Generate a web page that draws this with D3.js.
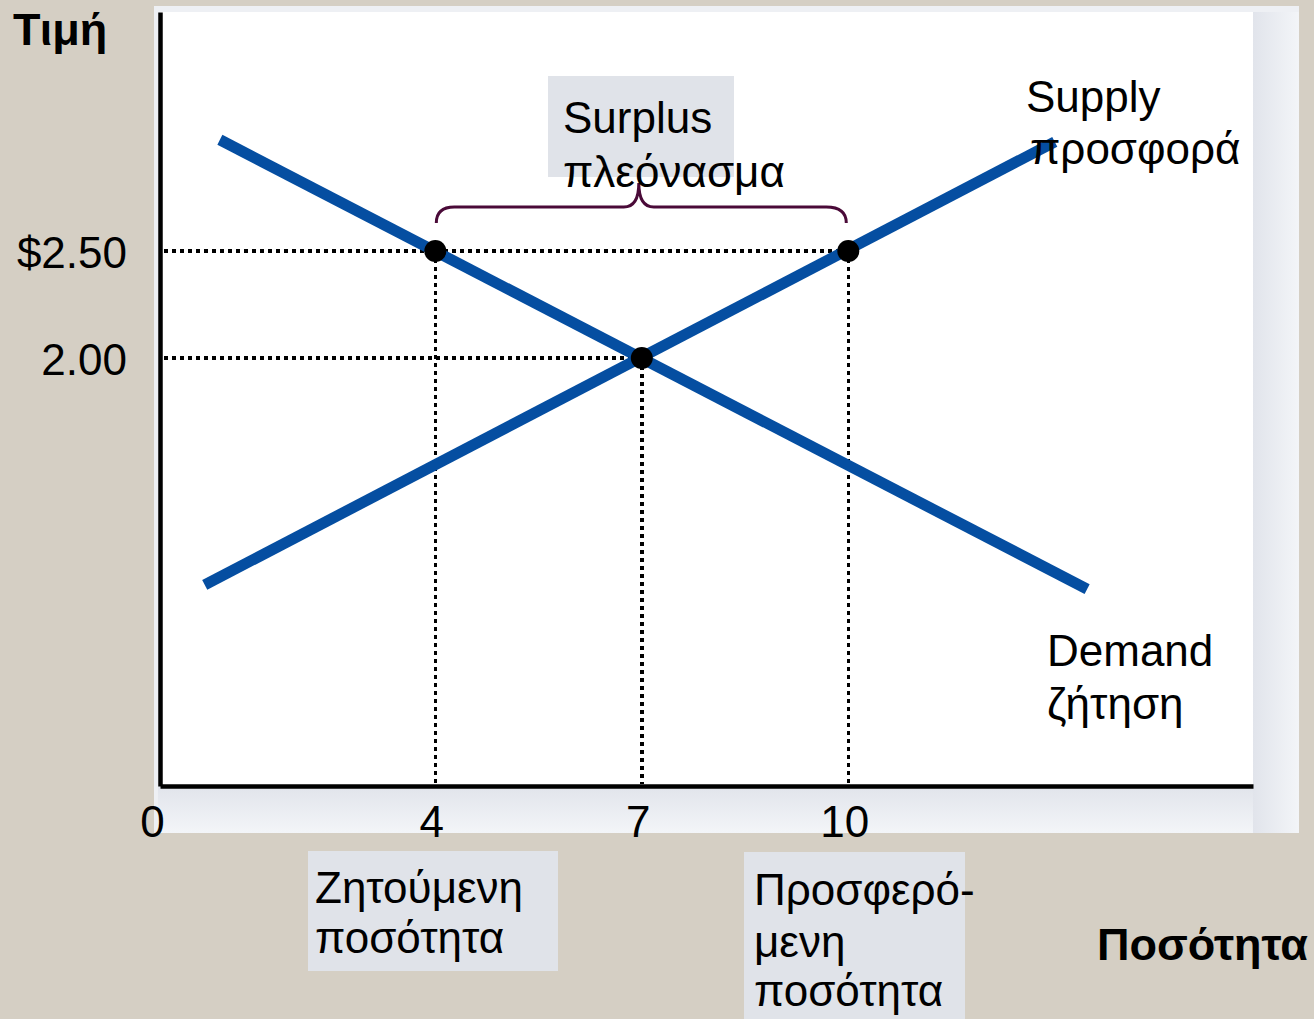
<!DOCTYPE html>
<html>
<head>
<meta charset="utf-8">
<script src="https://cdn.jsdelivr.net/npm/d3@7"></script>
<style>
  html, body { margin: 0; padding: 0; background: #d5cfc4; }
  svg { display: block; font-family: 'Liberation Sans', Arial, sans-serif; }
</style>
</head>
<body>
<svg id="chart" width="1314" height="1019"></svg>
<script>
'use strict';

// price axis ticks
var priceTicks = [2.5, 2.0];
var priceLabels = ['$2.50', '2.00'];

// quantity axis ticks
var qtyTicks = [0, 4, 7, 10];

// demand and supply curves (quantity, price)
var demandQ = [0.87, 13.47];
var demandP = [3.02, 0.92];
var supplyQ = [0.65, 13.0];
var supplyP = [0.94, 3.01];

// marked points: quantity demanded, quantity supplied, equilibrium
var pointQ = [4, 10, 7];
var pointP = [2.5, 2.5, 2.0];

var blue = '#054ea1';
var font = 44;

var svg = d3.select('#chart');

var x = d3.scaleLinear().domain([0, 15.88]).range([160, 1253]);
var y = d3.scaleLinear().domain([0, 3.617]).range([786, 12]);

var defs = svg.append('defs');
var gr = defs.append('linearGradient').attr('id', 'gradR').attr('x1', 0).attr('x2', 1).attr('y1', 0).attr('y2', 0);
gr.append('stop').attr('offset', '0%').attr('stop-color', '#e1e4eb');
gr.append('stop').attr('offset', '100%').attr('stop-color', '#f3f5f8');
var gb = defs.append('linearGradient').attr('id', 'gradB').attr('x1', 0).attr('x2', 0).attr('y1', 0).attr('y2', 1);
gb.append('stop').attr('offset', '0%').attr('stop-color', '#e1e4eb');
gb.append('stop').attr('offset', '100%').attr('stop-color', '#f3f5f8');

// panel
svg.append('rect')
    .attr('x', 154).attr('y', 6)
    .attr('width', 1299 - 154).attr('height', 833 - 6)
    .attr('fill', '#eef0f4');
svg.append('rect')
    .attr('x', 1253).attr('y', 12)
    .attr('width', 1299 - 1253).attr('height', 833 - 12)
    .attr('fill', 'url(#gradR)');
svg.append('rect')
    .attr('x', 158).attr('y', 786)
    .attr('width', 1253 - 158).attr('height', 833 - 786)
    .attr('fill', 'url(#gradB)');
svg.append('rect')
    .attr('x', x.range()[0]).attr('y', y.range()[1])
    .attr('width', x.range()[1] - x.range()[0]).attr('height', y.range()[0] - y.range()[1])
    .attr('fill', '#ffffff');

// label boxes
svg.append('rect').attr('x', 548).attr('y', 76).attr('width', 186).attr('height', 101).attr('fill', '#e0e3e9');
svg.append('rect').attr('x', 308).attr('y', 851).attr('width', 250).attr('height', 120).attr('fill', '#e0e3e9');
svg.append('rect').attr('x', 744).attr('y', 852).attr('width', 221).attr('height', 167).attr('fill', '#e0e3e9');

// dotted guides
var guides = svg.append('g')
    .attr('stroke', '#000')
    .attr('stroke-width', 3.5)
    .attr('stroke-dasharray', '4,4')
    .attr('shape-rendering', 'crispEdges')
    .attr('fill', 'none');

guides.append('line')
    .attr('x1', x(0) + 4).attr('x2', x(10))
    .attr('y1', y(2.5)).attr('y2', y(2.5));
guides.append('line')
    .attr('x1', x(0) + 4).attr('x2', x(7))
    .attr('y1', y(2.0)).attr('y2', y(2.0));
pointQ.forEach(function (q, i) {
    guides.append('line')
        .attr('x1', x(q)).attr('x2', x(q))
        .attr('y1', y(pointP[i])).attr('y2', y(0) - 2);
});

// axes
var xAxis = svg.append('g')
    .attr('transform', 'translate(0,' + y(0) + ')')
    .call(d3.axisBottom(x).tickValues(qtyTicks).tickSize(0).tickSizeOuter(0).tickPadding(20));
var yAxis = svg.append('g')
    .attr('transform', 'translate(' + x(0) + ',0)')
    .call(d3.axisLeft(y).tickValues(priceTicks).tickSize(0).tickSizeOuter(0).tickPadding(33)
        .tickFormat(function (d, i) { return priceLabels[i]; }));

[xAxis, yAxis].forEach(function (a) {
    a.select('.domain').attr('stroke', '#000').attr('stroke-width', 4.5);
    a.selectAll('text')
        .attr('font-family', "'Liberation Sans', Arial, sans-serif")
        .attr('font-size', font)
        .attr('fill', '#000');
});
xAxis.selectAll('.tick text').attr('dx', function (d) { return d === 0 ? -8 : -4; });
yAxis.selectAll('.tick text').attr('dy', '0.38em');

// curves
var line = d3.line()
    .x(function (d) { return x(d[0]); })
    .y(function (d) { return y(d[1]); });

svg.append('path')
    .datum(d3.zip(demandQ, demandP))
    .attr('d', line)
    .attr('fill', 'none')
    .attr('stroke', blue)
    .attr('stroke-width', 11);
svg.append('path')
    .datum(d3.zip(supplyQ, supplyP))
    .attr('d', line)
    .attr('fill', 'none')
    .attr('stroke', blue)
    .attr('stroke-width', 11);

// points
svg.selectAll('circle.pt')
    .data(d3.zip(pointQ, pointP))
    .enter().append('circle')
    .attr('class', 'pt')
    .attr('cx', function (d) { return x(d[0]); })
    .attr('cy', function (d) { return y(d[1]); })
    .attr('r', 11)
    .attr('fill', '#000');

// brace over the surplus
var bx1 = x(4) + 1;
var bx2 = x(10) - 2;
var bm = x(7) - 3;
var by = y(2.5) - 44;
var bEnd = y(2.5) - 28;
var bTip = y(2.5) - 68;
svg.append('path')
    .attr('d', 'M' + bx1 + ',' + bEnd +
        ' Q' + bx1 + ',' + by + ' ' + (bx1 + 18) + ',' + by +
        ' L' + (bm - 15) + ',' + by +
        ' Q' + bm + ',' + by + ' ' + bm + ',' + bTip +
        ' Q' + bm + ',' + by + ' ' + (bm + 15) + ',' + by +
        ' L' + (bx2 - 20) + ',' + by +
        ' Q' + bx2 + ',' + by + ' ' + bx2 + ',' + bEnd)
    .attr('fill', 'none')
    .attr('stroke', '#4a0a38')
    .attr('stroke-width', 3);

// texts
function label(txt, tx, ty, opts) {
    opts = opts || {};
    svg.append('text')
        .attr('x', tx)
        .attr('y', ty)
        .attr('font-size', opts.size || font)
        .attr('font-weight', opts.bold ? 'bold' : 'normal')
        .attr('text-anchor', opts.anchor || 'start')
        .attr('fill', '#000')
        .text(txt);
}

label('Τιμή', 13, 45, { bold: true, size: 45 });
label('Ποσότητα', 1308, 960, { bold: true, size: 45, anchor: 'end' });

label('Surplus', 563, 133);
label('πλεόνασμα', 563, 187);

label('Supply', 1026, 112);
label('προσφορά', 1030, 164);

label('Demand', 1047, 666);
label('ζήτηση', 1047, 719);

label('Ζητούμενη', 315, 903);
label('ποσότητα', 315, 953);

label('Προσφερό-', 754, 905);
label('μενη', 754, 957);
label('ποσότητα', 754, 1006);
</script>
</body>
</html>
